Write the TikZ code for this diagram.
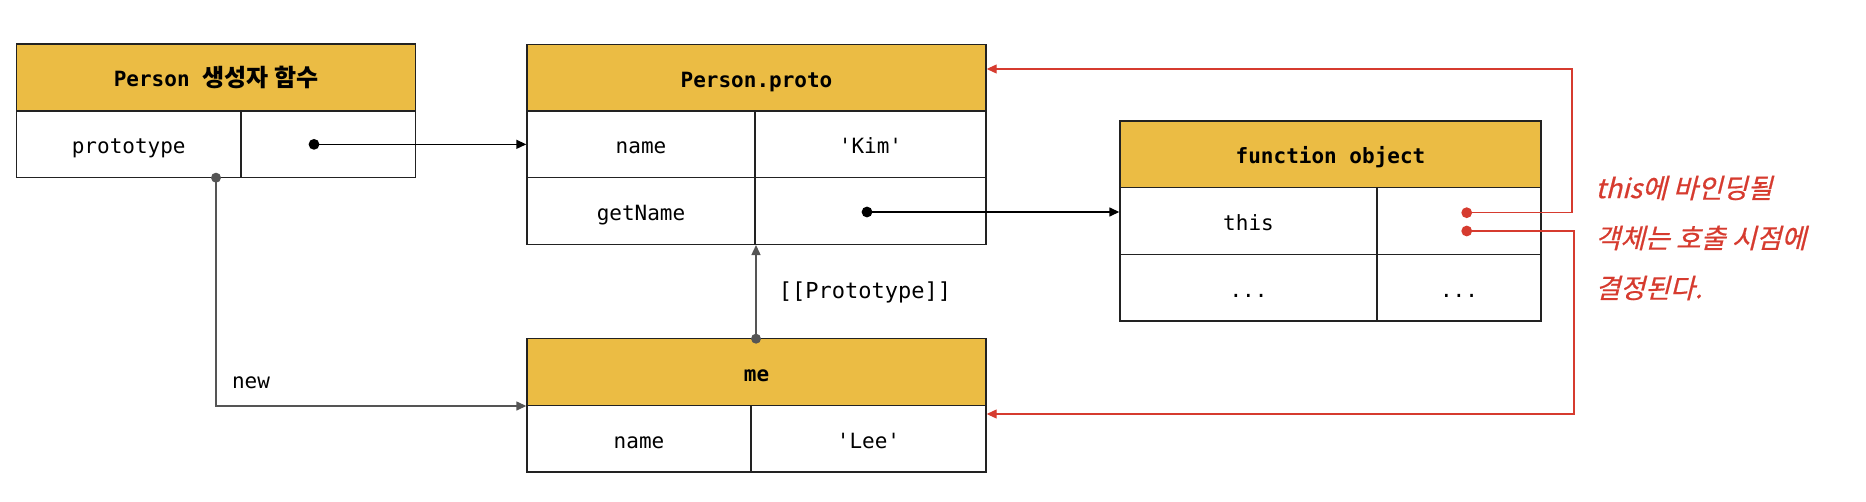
\documentclass[tikz,border=0pt]{standalone}
\usepackage{fontspec}
\setmonofont{DejaVu Sans Mono}
\newfontfamily\kr{Noto Sans CJK KR}
\newfontfamily\krit[FakeSlant=0.25,FakeBold=0.6]{Noto Sans CJK KR}
\usetikzlibrary{arrows.meta}
\definecolor{hdrc}{HTML}{EBBC44}
\definecolor{redc}{HTML}{D63B2F}
\definecolor{linec}{HTML}{222222}
\definecolor{grayc}{HTML}{555555}
\tikzset{
  cell/.style={draw=linec, line width=0.7pt, fill=white, inner sep=0pt, minimum height=33.3pt,
    text height=9.5pt, text depth=0pt,
    font=\ttfamily\fontsize{10.5}{12}\selectfont},
  hdr/.style={cell, fill=hdrc, font=\ttfamily\bfseries\fontsize{10.5}{12}\selectfont},
  blk/.style={draw=black, line width=0.7pt, -{Triangle[length=5pt,width=4.5pt]}},
  gry/.style={draw=grayc, line width=0.7pt, -{Triangle[length=5pt,width=4.5pt]}},
  redl/.style={draw=redc, line width=0.6pt, -{Triangle[length=5pt,width=4.5pt]}},
  lbl/.style={font=\ttfamily\fontsize{10.5}{12}\selectfont, inner sep=0pt},
}
\begin{document}
\begin{tikzpicture}[x=0.5pt,y=-0.5pt]
\useasboundingbox (0,0) rectangle (1866,502);
% Box 1
\node[hdr, minimum width=199.5pt] (b1h) at (216,77.5) {Person {\kr\bfseries\fontsize{12}{12}\selectfont 생성자 함수}};
\node[cell, minimum width=112.25pt] (b1l) at (128.75,144.35) {prototype};
\node[cell, minimum width=87.3pt] (b1r) at (328.3,144.35) {};
% Box 2
\node[hdr, minimum width=229.5pt] (b2h) at (756.5,77.75) {Person.proto};
\node[cell, minimum width=114pt] (b2a) at (641,144.35) {name};
\node[cell, minimum width=115.5pt] (b2b) at (870.5,144.35) {'Kim'};
\node[cell, minimum width=114pt] (b2c) at (641,211) {getName};
\node[cell, minimum width=115.5pt] (b2d) at (870.5,211) {};
% Box 3
\node[hdr, minimum width=210.5pt] (b3h) at (1330.5,154.35) {function object};
\node[cell, minimum width=128.5pt] (b3a) at (1248.5,221) {this};
\node[cell, minimum width=82pt] (b3b) at (1459,221) {};
\node[cell, minimum width=128.5pt] (b3c) at (1248.5,287.65) {...};
\node[cell, minimum width=82pt] (b3d) at (1459,287.65) {...};
% Box 4
\node[hdr, minimum width=229.5pt] (b4h) at (756.5,372) {me};
\node[cell, minimum width=112pt] (b4a) at (639,438.65) {name};
\node[cell, minimum width=117.5pt] (b4b) at (868.5,438.65) {'Lee'};
% connectors
\coordinate (d1) at (314,144.35);
\draw[blk] (d1) -- (b2a.west);
\fill (d1) circle (2.7pt);
\coordinate (d2) at (867,212);
\draw[blk] (d2) -- (d2 -| b3a.west);
\fill (d2) circle (2.7pt);
\coordinate (g1) at (216,177.7);
\draw[gry] (g1) |- (b4h.south west);
\fill[grayc] (g1) circle (2.5pt);
\node[lbl] (newl) at (251,383) {new};
\coordinate (g2) at (756,338.7);
\draw[gry] (g2) -- (g2 |- b2c.south);
\fill[grayc] (g2) circle (2.5pt);
\node[lbl, font=\ttfamily\fontsize{11}{12}\selectfont] (protl) at (865,292) {[[Prototype]]};
% red
\coordinate (r1) at (1466.7,212.7);
\coordinate (r1c) at (1572,69);
\draw[redl] (r1) -| (r1c) -- (r1c -| b2h.east);
\fill[redc] (r1) circle (2.7pt);
\coordinate (r2) at (1466.7,231);
\coordinate (r2c) at (1574,414);
\draw[redl] (r2) -| (r2c) -- (r2c -| b4b.east);
\fill[redc] (r2) circle (2.7pt);
\node[anchor=west, align=left, inner sep=0pt, text=redc, font=\krit\fontsize{13.5}{25}\selectfont] (note) at (1595,238)
  {this에 바인딩될\\객체는 호출 시점에\\결정된다.};
\end{tikzpicture}
\end{document}
